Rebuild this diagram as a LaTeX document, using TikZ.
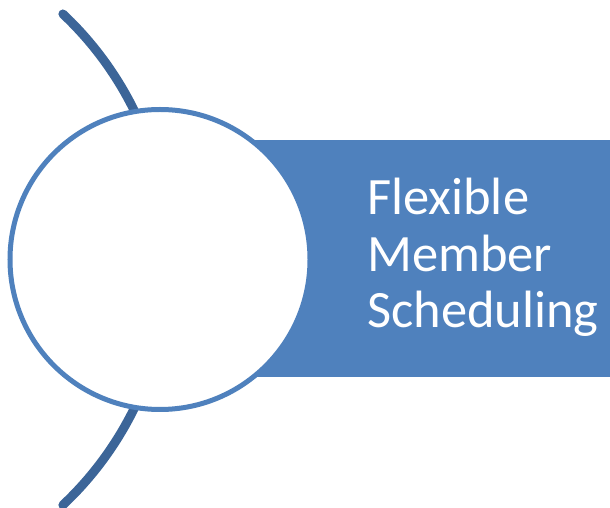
\documentclass[tikz,border=0pt]{standalone}
\usepackage{fontspec}
\setmainfont{Carlito}
\definecolor{listblue}{HTML}{4F81BD}
\definecolor{arcblue}{HTML}{3C6598}
\begin{document}
\begin{tikzpicture}[x=1bp,y=1bp]
  \useasboundingbox (0bp,0bp) rectangle (610bp,508bp);
  % big arc behind the list
  \coordinate (ArcCenter) at (-168.5bp,248.5bp);
  \draw [arcblue,line width=9bp,line cap=round] (ArcCenter) ++(46.7:337.4bp) arc [start angle=46.7,end angle=-46.7,radius=337.4bp];
  \node (Band) at (385.0bp,249.5bp) [rectangle,fill=listblue,minimum width=450bp,minimum height=237bp,inner sep=0bp] {};
  \node (Bubble) at (160.0bp,248.5bp) [draw=listblue,circle,fill=white,line width=5bp,minimum size=300bp,inner sep=0bp] {};
  \node (Label) at (367.0bp,180.0bp) [anchor=base west,align=left,text=white,inner sep=0bp,font=\fontsize{52.5bp}{56.5bp}\selectfont] {Flexible\\Member\\Scheduling};
\end{tikzpicture}
\end{document}
